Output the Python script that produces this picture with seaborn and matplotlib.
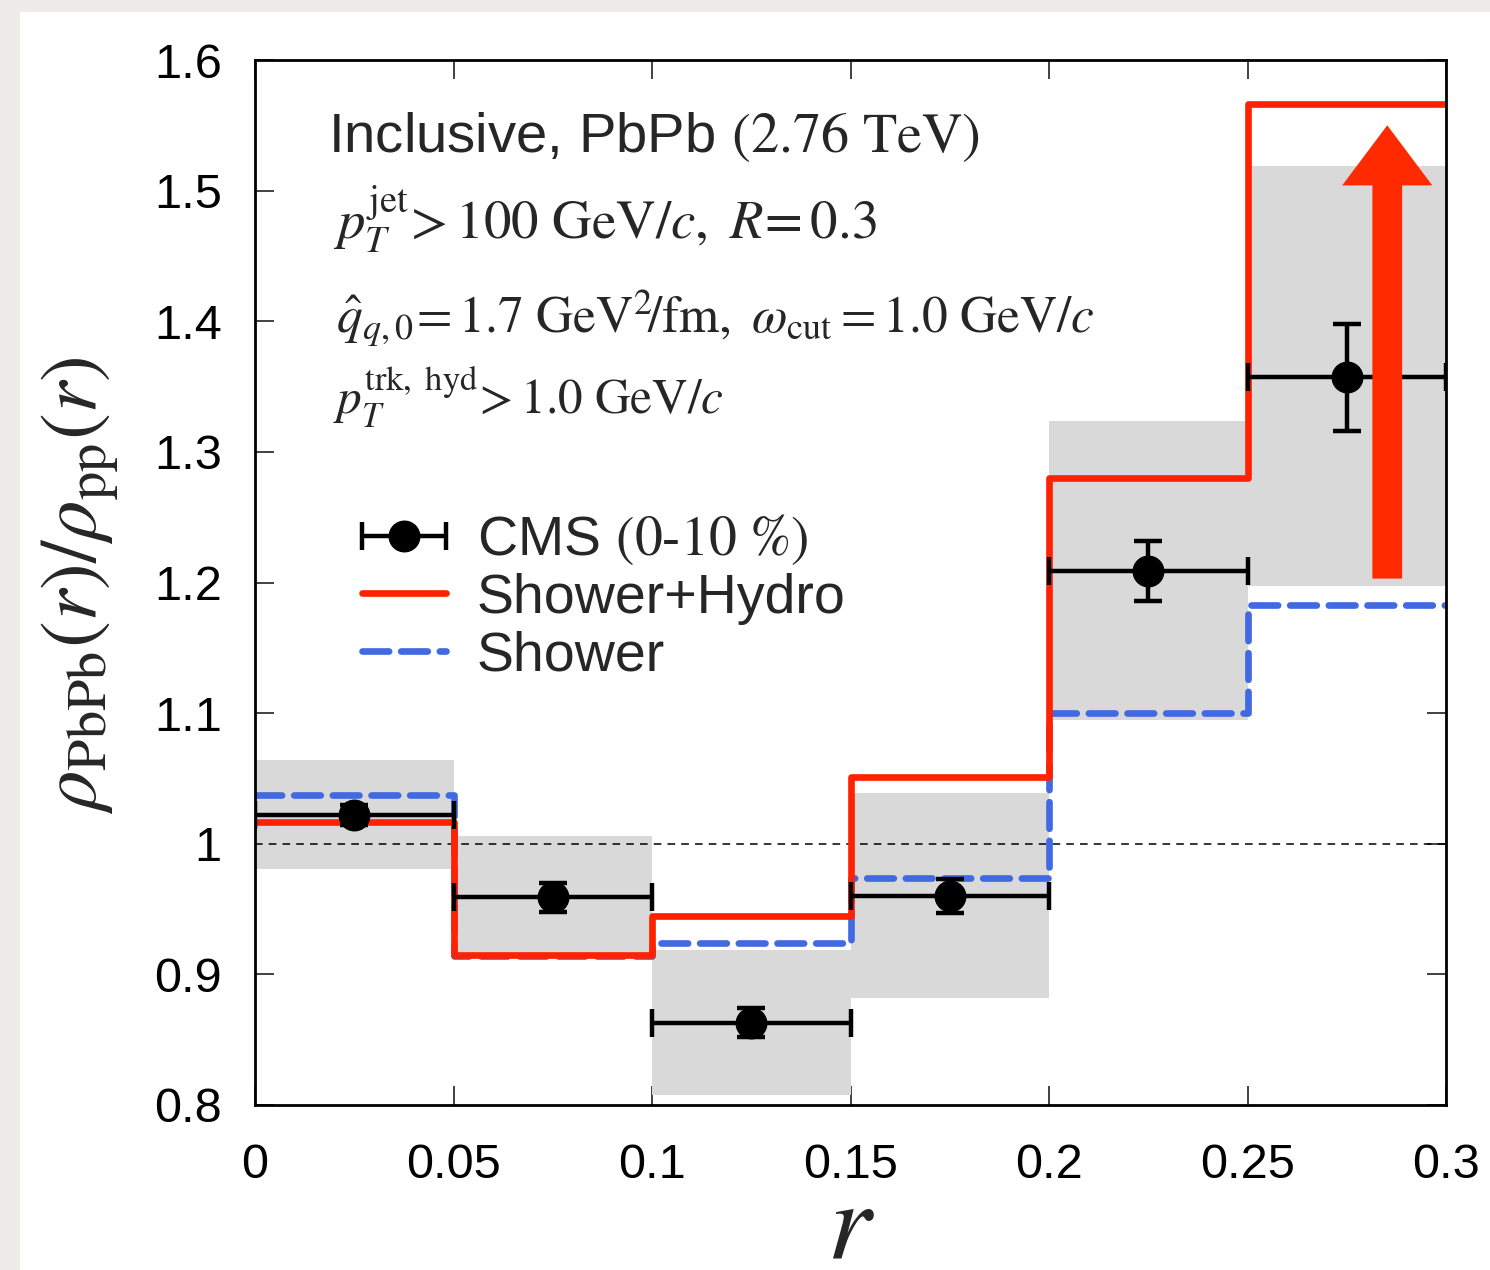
import numpy as np
import pandas as pd
import matplotlib
matplotlib.use("Agg")
import matplotlib.pyplot as plt
import seaborn as sns
from matplotlib.patches import Rectangle
from matplotlib.legend_handler import HandlerErrorbar

# ---------------- data ----------------
edges = [0.0, 0.05, 0.10, 0.15, 0.20, 0.25, 0.30]
r_centers = [0.025, 0.075, 0.125, 0.175, 0.225, 0.275]
cms_vals = [1.022, 0.959, 0.863, 0.960, 1.209, 1.357]
cms_stat = [0.008, 0.011, 0.011, 0.013, 0.023, 0.041]
sys_lo = [0.981, 0.915, 0.808, 0.882, 1.095, 1.197]
sys_hi = [1.064, 1.006, 0.919, 1.039, 1.324, 1.519]
shower_hydro = [1.017, 0.915, 0.945, 1.051, 1.280, 1.566]
shower = [1.037, 0.914, 0.924, 0.974, 1.100, 1.183]
x_ticks = [0, 0.05, 0.1, 0.15, 0.2, 0.25, 0.3]
x_ticklabels = ["0", "0.05", "0.1", "0.15", "0.2", "0.25", "0.3"]
y_ticks = [0.8, 0.9, 1.0, 1.1, 1.2, 1.3, 1.4, 1.5, 1.6]
y_ticklabels = ["0.8", "0.9", "1", "1.1", "1.2", "1.3", "1.4", "1.5", "1.6"]
arrow_x = 0.2852
arrow_from = 1.203
arrow_to = 1.550

# ---------------- style ----------------
sns.set_theme(style="ticks")
plt.rcParams["font.family"] = ["Liberation Sans", "DejaVu Sans"]
plt.rcParams["mathtext.fontset"] = "stix"

RED = "#ff2200"
BLUE = "#4169e1"
GRAY = "#d9d9d9"

W, H = 1490, 1270
fig = plt.figure(figsize=(W / 100, H / 100), dpi=100)
fig.patch.set_facecolor("#eeece8")
fig.add_artist(Rectangle((20 / W, 0), 1 - 20 / W, 1 - 12 / H,
                         transform=fig.transFigure, facecolor="white",
                         edgecolor="none", zorder=-10))

L, R, T, B = 255, 1446, 60, 1105
ax = fig.add_axes([L / W, 1 - B / H, (R - L) / W, (B - T) / H])
ax.set_facecolor("white")

# systematic boxes
widths = np.diff(edges)
heights = np.array(sys_hi) - np.array(sys_lo)
ax.bar(edges[:-1], heights, width=widths, bottom=sys_lo, align="edge",
       color=GRAY, edgecolor="none", zorder=1)

# reference line at 1
ax.axhline(1.0, color="black", lw=1.1, ls=(0, (5, 4)), zorder=2)

# step curves
step_df = pd.DataFrame({
    "r": edges + edges,
    "val": shower_hydro + [shower_hydro[-1]] + shower + [shower[-1]],
    "model": ["Shower+Hydro"] * len(edges) + ["Shower"] * len(edges),
})
sns.lineplot(data=step_df[step_df.model == "Shower"], x="r", y="val",
             drawstyle="steps-post", color=BLUE, lw=4.8,
             dashes=False, ax=ax, zorder=3, estimator=None, sort=False,
             legend=False)
sns.lineplot(data=step_df[step_df.model == "Shower+Hydro"], x="r", y="val",
             drawstyle="steps-post", color=RED, lw=4.8,
             ax=ax, zorder=4, estimator=None, sort=False, legend=False)
lines = ax.get_lines()
blue_line = [l for l in lines if matplotlib.colors.same_color(l.get_color(), BLUE)][0]
blue_line.set_linestyle((0, (4.0, 1.8)))
blue_line.set_dash_capstyle("round")
red_line = [l for l in lines if matplotlib.colors.same_color(l.get_color(), RED)][0]

# CMS data
xerr = [0.025] * len(r_centers)
ax.errorbar(r_centers, cms_vals, yerr=cms_stat, xerr=xerr, fmt="o",
            color="black", ms=22, elinewidth=3.2, capsize=10, capthick=3.2,
            zorder=5)
# legend proxy (x-error only)
cms_proxy = ax.errorbar([np.nan], [np.nan], xerr=[0.025], fmt="o",
                        color="black", ms=22, elinewidth=3.2, capsize=10,
                        capthick=3.2)

# arrow
ax.arrow(arrow_x, arrow_from, 0, arrow_to - arrow_from, width=0.0075,
         head_width=0.0227, head_length=0.046, length_includes_head=True,
         color="#ff2a00", ec="none", zorder=6)

# axes
ax.set_xlim(0, 0.3)
ax.set_ylim(0.8, 1.6)
ax.set_xticks(x_ticks)
ax.set_xticklabels(x_ticklabels)
ax.set_yticks(y_ticks)
ax.set_yticklabels(y_ticklabels)
ax.tick_params(axis="both", which="major", direction="in", length=14,
               width=1.3, color="#333333", labelsize=35,
               top=True, right=True, labelcolor="black")
ax.tick_params(axis="x", pad=27)
ax.tick_params(axis="y", pad=24)
ax.minorticks_off()
for s in ax.spines.values():
    s.set_visible(True)
    s.set_linewidth(2.0)
    s.set_color("black")
    s.set_zorder(10)

def axx(px):
    return (px - L) / (R - L)

def axy(py):
    return (B - py) / (B - T)

ax.set_xlabel(r"$r$", fontsize=80, va="baseline")
ax.xaxis.set_label_coords(0.5, axy(1257))
ax.set_ylabel(r"$\rho_{\mathrm{PbPb}}(r)/\rho_{\mathrm{pp}}(r)$",
              fontsize=58, va="center")
ax.yaxis.set_label_coords(-0.147, 0.497)

ax.text(axx(328), axy(152), r"Inclusive, PbPb $\mathrm{(2.76\ TeV)}$",
        transform=ax.transAxes, fontsize=40.5, ha="left", va="baseline")
ax.text(axx(333), axy(238),
        r"$p_T^{\rm jet}\!> 100\ \mathrm{GeV}/c,\ R\!=0.3$",
        transform=ax.transAxes, fontsize=39.5, ha="left", va="baseline")
ax.text(axx(336), axy(332),
        r"$\hat{q}_{q,0}\!= 1.7\ \mathrm{GeV}^2\!/\mathrm{fm},\ \omega_{\rm cut} = 1.0\ \mathrm{GeV}/c$",
        transform=ax.transAxes, fontsize=37, ha="left", va="baseline")
ax.text(axx(333), axy(415),
        r"$p_T^{\rm trk,\ hyd}\!> 1.0\ \mathrm{GeV}/c$",
        transform=ax.transAxes, fontsize=35.5, ha="left", va="baseline")

# legend
handles = [cms_proxy, red_line, blue_line]
labels = ["CMS $\\mathrm{(0\u201010\\ \\%)}$", "Shower+Hydro", "Shower"]
leg = ax.legend(handles, labels, loc="upper left",
                bbox_to_anchor=(axx(362), axy(512)), frameon=False,
                fontsize=40, handlelength=1.52, handletextpad=0.55,
                borderaxespad=0, borderpad=0, labelspacing=0.1,
                numpoints=1,
                handler_map={type(cms_proxy): HandlerErrorbar(xerr_size=0.76)})

fig.savefig("out.png", dpi=100, facecolor=fig.get_facecolor())
